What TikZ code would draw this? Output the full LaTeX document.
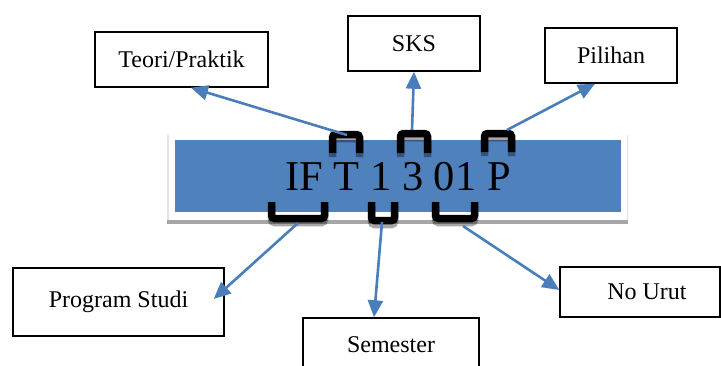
\documentclass[tikz,border=0pt]{standalone}
\usepackage{fontspec}
\setmainfont{Liberation Serif}
\usetikzlibrary{arrows.meta}
\definecolor{panelblue}{HTML}{4F81BD}
\definecolor{arrowblue}{HTML}{4A7EBB}
\definecolor{sidegray}{HTML}{E3E3E3}
\definecolor{shadowgray}{HTML}{A6A6A6}
\newcommand\mybracket[1]{\draw[brkshadow,yshift=-4pt] #1; \draw[brk] #1;}
\begin{document}
\begin{tikzpicture}[x=1pt,y=-1pt,
  box/.style={draw=black, line width=1.4pt, fill=white, font=\fontsize{24}{27}\selectfont, inner sep=0pt},
  arr/.style={draw=arrowblue, line width=2.6pt, -{Triangle[length=17pt,width=15pt]}},
  brk/.style={line width=7.5pt, rounded corners=3pt, draw=black},
  brkshadow/.style={line width=7.5pt, rounded corners=3pt, draw=black, opacity=0.35}]
\useasboundingbox (0,0) rectangle (721,365);
\clip (0,0) rectangle (721,365);
% panel
\fill[sidegray] (167,135) rectangle (628,220);
\fill[shadowgray] (167,220) rectangle (628,224);
\fill[white] (168.5,135) rectangle (626.5,220);
\fill[panelblue] (175,140) rectangle (621,212);
\node[anchor=base west, inner sep=0pt, font=\fontsize{42.5}{45}\selectfont] (code) at (285,190) {IF T 1 3 01 P};
% brackets
\mybracket{(332.5,153) -- (332.5,134.5) -- (359.5,134.5) -- (359.5,153)}
\mybracket{(400.5,153) -- (400.5,133.5) -- (427.5,133.5) -- (427.5,153)}
\mybracket{(484.5,152) -- (484.5,133.5) -- (511.5,133.5) -- (511.5,152)}
\mybracket{(271.5,202) -- (271.5,218.5) -- (324.5,218.5) -- (324.5,202)}
\mybracket{(371.5,202) -- (371.5,220.5) -- (394.5,220.5) -- (394.5,202)}
\mybracket{(435.5,202) -- (435.5,218.5) -- (474.5,218.5) -- (474.5,202)}
% boxes
\node[box, minimum width=173pt, minimum height=55pt] (teori) at (181.5,59.5) {Teori/Praktik};
\node[box, minimum width=132pt, minimum height=55pt] (sks) at (414,43.5) {SKS};
\node[box, minimum width=132pt, minimum height=55pt] (pilihan) at (611,55.5) {Pilihan};
\node[box, minimum width=211pt, minimum height=68pt] (prog) at (118.5,302) {Program Studi};
\node[box, minimum width=176pt, minimum height=54pt] (semester) at (391,345) {Semester};
\node[box, minimum width=160pt, minimum height=50pt] (nourut) at (640,292) {\hspace*{14pt}No Urut};
% arrow starts
\coordinate (sT) at (347,135);
\coordinate (s3) at (412,130);
\coordinate (sP) at (507,130);
\coordinate (sIF) at (298,223);
\coordinate (s1) at (382,222);
\coordinate (s01) at (463,226);
% arrows
\draw[arr] (sT) -- ([xshift=9.5pt]teori.south);
\draw[arr] (s3) -- (sks.south);
\draw[arr] (sP) -- ([xshift=-16pt]pilihan.south);
\draw[arr] (sIF) -- ([xshift=-11pt,yshift=3pt]prog.east);
\draw[arr] (s1) -- ([xshift=-17pt]semester.north);
\draw[arr] (s01) -- ([yshift=2pt]nourut.west);
\end{tikzpicture}
\end{document}
